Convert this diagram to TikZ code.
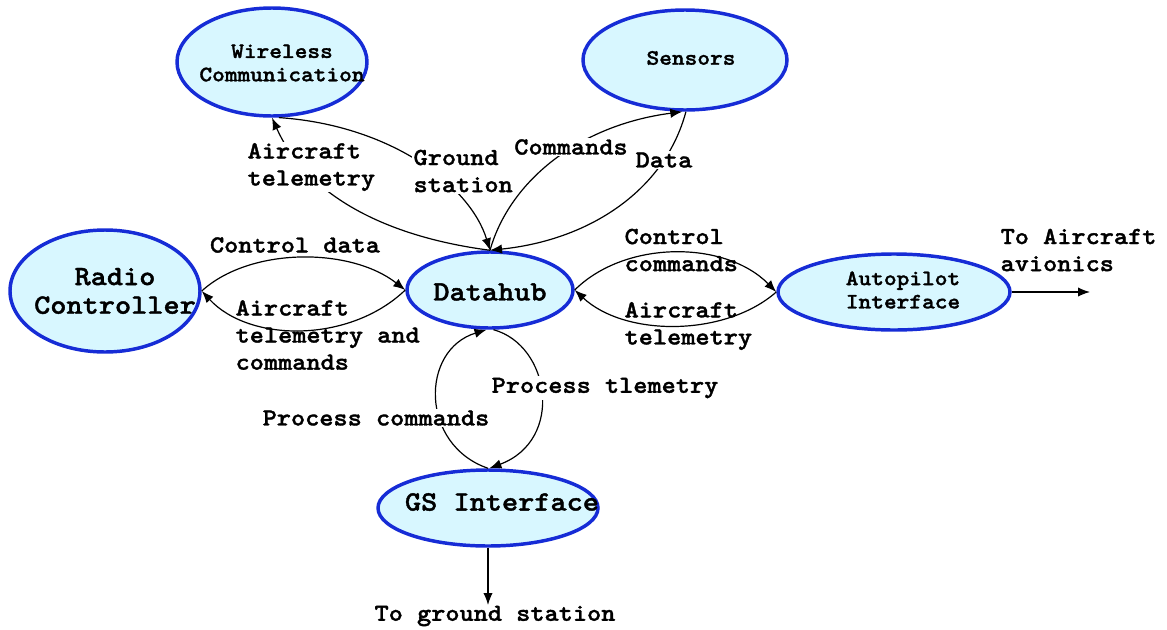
\documentclass[tikz,border=0pt]{standalone}
\usepackage{fontspec}
\newfontfamily\flowfont{lmmonolt10-bold}[Extension=.otf,FakeStretch=1.1,FakeBold=1.4]
\usetikzlibrary{shapes.geometric,arrows.meta}
\definecolor{bubblefill}{RGB}{216,247,255}
\definecolor{bubbleedge}{RGB}{22,44,214}
\begin{document}
\begin{tikzpicture}[x=0.75pt,y=-0.75pt,
  bubble/.style={ellipse,draw=bubbleedge,fill=bubblefill,line width=2.6pt,inner sep=0pt},
  bigname/.style={font=\flowfont\fontsize{21}{21.5}\selectfont,align=center,inner sep=0pt},
  smallname/.style={font=\flowfont\fontsize{16.5}{17.5}\selectfont,align=center,inner sep=0pt},
  flow/.style={line width=0.9pt,-{Latex[length=9pt,width=7pt]}},
  tag/.style={font=\flowfont\fontsize{18.4}{20.3}\selectfont,align=left,inner sep=1pt},
  tagcut/.style={tag,fill=white},
  ]
\useasboundingbox (0,0) rectangle (1167,629);

% processing blocks
\node[bubble,minimum width=142.5pt,minimum height=81pt] (wc) at (272,62) {};
\node[smallname] (wcname) at (282,63) {Wireless\\Communication};
\node[bubble,minimum width=153pt,minimum height=75pt] (sen) at (685,60) {};
\node[smallname] (senname) at (691,58) {Sensors};
\node[bubble,minimum width=142.5pt,minimum height=91.5pt] (rc) at (105,291) {};
\node[bigname] (rcname) at (115,291) {Radio\\Controller};
\node[bubble,minimum width=124.5pt,minimum height=57pt] (dh) at (490,290) {};
\node[bigname] (dhname) at (490,292) {Datahub};
\node[bubble,minimum width=174pt,minimum height=57pt] (ap) at (894,292) {};
\node[smallname] (apname) at (903,290) {Autopilot\\Interface};
\node[bubble,minimum width=165pt,minimum height=57pt] (gs) at (488,508) {};
\node[bigname] (gsname) at (502,502) {GS Interface};

\coordinate (apout) at (1090,292);
\coordinate (gsout) at (488,605);

% data flows
\draw[flow] (dh.north) .. controls (380,236) and (305,192) .. (wc.south);
\draw[flow] (wc.-83) .. controls (390,125) and (470,185) .. (dh.north);
\draw[flow] (dh.north) .. controls (510,180) and (580,125) .. (sen.-93);
\draw[flow] (sen.-89) .. controls (665,190) and (590,240) .. (dh.north);
\draw[flow] (rc.east) .. controls (250,247) and (350,247) .. (dh.west);
\draw[flow] (dh.west) .. controls (350,343) and (250,343) .. (rc.east);
\draw[flow] (dh.east) .. controls (625,240) and (725,240) .. (ap.west);
\draw[flow] (ap.west) .. controls (725,337) and (625,337) .. (dh.east);
\draw[flow] (gs.north) .. controls (420,445) and (420,350) .. (dh.-95);
\draw[flow] (dh.-85) .. controls (550,345) and (565,440) .. (gs.88);
\draw[flow] (ap.east) -- (apout);
\draw[flow] (gs.south) -- (gsout);

% flow labels
\node[tagcut,anchor=west] (l1) at (246,167) {Aircraft\\telemetry};
\node[tagcut,anchor=west] (l2) at (412,171) {Ground\\station};
\node[tagcut] (l3) at (571,147) {Commands};
\node[tagcut] (l4) at (664,160) {Data};
\node[tag] (l5) at (295,245) {Control data};
\node[tag,anchor=west] (l6) at (234,335) {Aircraft\\telemetry and\\commands};
\node[tag,anchor=west] (l7) at (623,250) {Control\\commands};
\node[tag,anchor=west] (l8) at (623,326) {Aircraft\\telemetry};
\node[tag,anchor=west] (l9) at (999,250) {To Aircraft\\avionics};
\node[tagcut] (l10) at (605,388) {Process tlemetry};
\node[tagcut] (l11) at (376,418) {Process commands};
\node[tag] (l12) at (495,616) {To ground station};
\end{tikzpicture}
\end{document}
